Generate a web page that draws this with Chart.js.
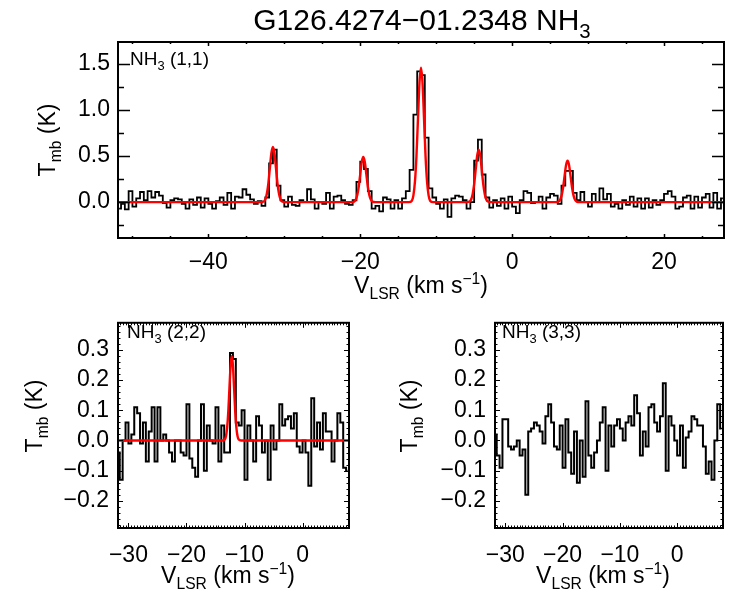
<!DOCTYPE html>
<html>
<head>
<meta charset="utf-8">
<title>G126.4274−01.2348 NH3</title>
<script src="https://cdn.jsdelivr.net/npm/chart.js@4.4.0/dist/chart.umd.min.js"></script>
<style>
  body { margin: 0; background: #fff; }
  #wrap { position: relative; width: 750px; height: 600px; }
  canvas { position: absolute; }
</style>
</head>
<body>
<div id="wrap">
  <canvas id="nh11" width="750" height="300" style="left:0;top:0"></canvas>
  <canvas id="nh22" width="375" height="300" style="left:0;top:300px"></canvas>
  <canvas id="nh33" width="375" height="300" style="left:375px;top:300px"></canvas>
</div>
<script>
// NH3 (1,1): channel grid (km/s) and brightness (K)
const v11Start = -51.75, v11Step = 0.5;
const t11 = [
  -0.07, -0.02, -0.08, 0.12, -0.05, 0.04, 0.11, 0.02, 0.12, 0.05,
  0.11, 0.07, -0.01, -0.06, 0.02, 0.04, 0.03, -0.02, -0.07, 0.03,
  -0.03, 0.05, -0.06, 0.04, -0.02, -0.07, 0.01, 0.05, -0.03, 0.10,
  -0.07, 0.06, 0.05, 0.14, 0.08, 0.03, -0.02, 0.01, -0.04, 0.05,
  0.42, 0.57, 0.18, 0.02, -0.05, 0.06, -0.03, -0.04, 0.02, 0.0,
  0.14, 0.03, -0.07, 0.0, -0.02, 0.10, -0.07, 0.06, 0.07, 0.02,
  -0.02, -0.03, 0.02, 0.22, 0.44, 0.36, 0.12, -0.07, -0.04, -0.10,
  0.05, 0.03, -0.07, 0.02, -0.07, 0.04, 0.12, 0.35, 0.95, 1.42,
  1.38, 0.70, 0.15, 0.05, -0.02, -0.07, 0.03, -0.16, 0.04, 0.07,
  0.06, 0.02, -0.07, 0.0, 0.45, 0.68, 0.30, 0.05, -0.06, 0.02,
  -0.04, 0.04, -0.07, 0.06, -0.05, -0.12, 0.02, 0.12, 0.10, -0.01,
  0.0, 0.06, -0.07, 0.05, 0.09, 0.07, -0.02, 0.18, 0.34, 0.34,
  0.10, 0.02, 0.11, 0.0, -0.05, 0.09, 0.0, 0.15, 0.03, 0.09,
  -0.05, -0.02, -0.07, 0.02, -0.03, 0.06, -0.05, 0.04, -0.07, 0.04,
  -0.06, 0.02, -0.03, 0.02, 0.09, 0.12, 0.06, -0.07, -0.05, 0.05,
  0.07, -0.07, 0.06, -0.06, 0.05, 0.09, -0.06, 0.10, -0.07, 0.04
];
// hyperfine fit (red)
const fit11V = [
  -51.9,
  -33.1, -32.7, -32.5, -32.3, -32.1, -31.9, -31.7, -31.5, -31.3, -31.1, -30.9, -30.7, -30.5, -30.3, -29.9,
  -21.2, -20.8, -20.6, -20.4, -20.2, -20.0, -19.8, -19.6, -19.4, -19.2, -19.0, -18.8, -18.6, -18.4, -18.0,
  -13.6, -13.2, -13.0, -12.8, -12.6, -12.4, -12.2, -12.0, -11.8, -11.6, -11.4, -11.2, -11.0, -10.8, -10.4,
  -6.0, -5.6, -5.4, -5.2, -5.0, -4.8, -4.6, -4.4, -4.2, -4.0, -3.8, -3.6, -3.4, -3.2, -2.8,
  5.7, 6.1, 6.3, 6.5, 6.7, 6.9, 7.1, 7.3, 7.5, 7.7, 7.9, 8.1, 8.3, 8.5, 8.9,
  27.9
];
const fit11T = [
  0,
  0, 0.006, 0.03, 0.09, 0.204, 0.372, 0.534, 0.6, 0.534, 0.372, 0.204, 0.09, 0.03, 0.006, 0,
  0, 0.005, 0.025, 0.074, 0.167, 0.304, 0.436, 0.49, 0.436, 0.304, 0.167, 0.074, 0.025, 0.005, 0,
  0, 0.015, 0.073, 0.219, 0.496, 0.905, 1.299, 1.46, 1.299, 0.905, 0.496, 0.219, 0.073, 0.015, 0,
  0, 0.006, 0.029, 0.086, 0.194, 0.353, 0.507, 0.57, 0.507, 0.353, 0.194, 0.086, 0.029, 0.006, 0,
  0, 0.005, 0.023, 0.068, 0.153, 0.279, 0.401, 0.45, 0.401, 0.279, 0.153, 0.068, 0.023, 0.005, 0,
  0
];

// NH3 (2,2)
const v22Start = -31.75, v22Step = 0.5;
const t22 = [
  -0.04, -0.13, 0.0, 0.06, -0.01, 0.02, 0.11, 0.09, -0.01, 0.06,
  -0.07, 0.03, 0.11, -0.07, 0.11, 0.0, 0.02, 0.0, -0.04, -0.07,
  0.0, 0.0, -0.04, -0.05, 0.12, -0.06, -0.09, -0.12, 0.0, 0.12,
  -0.10, 0.05, 0.0, -0.01, 0.11, -0.07, 0.05, -0.04, -0.04, 0.29,
  0.27, 0.06, 0.05, 0.10, -0.13, 0.05, 0.0, -0.07, 0.08, 0.05,
  -0.04, 0.0, -0.13, 0.05, -0.03, 0.0, 0.12, 0.05, 0.07, 0.08,
  0.04, 0.09, -0.02, -0.04, 0.0, -0.04, -0.15, 0.14, -0.02, 0.06,
  -0.03, 0.09, 0.03, 0.03, -0.07, 0.0, 0.09, 0.06, -0.09, -0.10
];
const fit22V = [-31.8, -13.8, -13.4, -13.2, -13.0, -12.8, -12.6, -12.4, -12.2, -12.0, -11.8, -11.6, -11.4, -11.2, -11.0, -10.6, 8.0];
const fit22T = [0, 0, 0.003, 0.014, 0.042, 0.095, 0.174, 0.249, 0.28, 0.249, 0.174, 0.095, 0.042, 0.014, 0.003, 0, 0];

// NH3 (3,3)
const v33Start = -31.75, v33Step = 0.5;
const t33 = [
  0.02, -0.05, -0.09, 0.07, 0.07, -0.02, -0.03, -0.02, 0.0, -0.05,
  -0.03, -0.18, 0.03, 0.04, 0.06, 0.05, 0.03, -0.01, 0.08, 0.12,
  0.06, -0.02, -0.03, 0.05, -0.09, 0.07, -0.04, -0.11, 0.03, -0.14,
  0.0, -0.12, 0.13, -0.05, -0.09, -0.04, 0.0, 0.06, 0.11, -0.10,
  0.05, -0.02, 0.05, 0.07, 0.04, 0.0, 0.06, 0.08, 0.05, 0.15,
  0.09, -0.05, 0.03, -0.02, 0.11, 0.12, 0.06, 0.03, 0.08, 0.19,
  -0.10, 0.08, 0.05, 0.0, -0.05, 0.05, -0.09, 0.01, 0.03, 0.08,
  0.07, 0.05, 0.05, -0.02, -0.11, -0.07, -0.13, 0.0, 0.12, 0.04
];

// tick labels
const ticks11X = [-40, -20, 0, 20];
const ticks11Y = [0.0, 0.5, 1.0, 1.5];
const ticksLowX = [-30, -20, -10, 0];
const ticksLowY = [-0.2, -0.1, 0.0, 0.1, 0.2, 0.3];

Chart.defaults.font.family = '"Liberation Sans", Arial, sans-serif';
Chart.defaults.font.size = 23;
Chart.defaults.color = '#000';

const FONT = '"Liberation Sans", Arial, sans-serif';

function spectrum(start, step, vals) {
  return vals.map((t, i) => ({ x: start + i * step, y: t }));
}
function pairs(vs, ts) {
  return vs.map((v, i) => ({ x: v, y: ts[i] }));
}
function fmt(dec) {
  return v => (v < 0 ? '\u2212' : '') + Math.abs(v).toFixed(dec);
}

// box with inward major/minor ticks on all four sides
const framePlugin = {
  id: 'frame',
  afterDatasetsDraw(chart, args, o) {
    const { ctx, chartArea: a, scales: { x, y } } = chart;
    ctx.save();
    ctx.strokeStyle = '#000';
    ctx.lineWidth = o.tw;
    ctx.beginPath();
    for (let k = Math.ceil(x.min / o.xMinor - 1e-9); k * o.xMinor <= x.max + 1e-9; k++) {
      const v = k * o.xMinor;
      const r = v / o.xMajor;
      const len = Math.abs(r - Math.round(r)) < 1e-6 ? o.xLen : o.xLen / 2;
      const px = Math.round(x.getPixelForValue(v)) + 0.5;
      ctx.moveTo(px, a.bottom); ctx.lineTo(px, a.bottom - len);
      ctx.moveTo(px, a.top); ctx.lineTo(px, a.top + len);
    }
    for (let k = Math.ceil(y.min / o.yMinor - 1e-9); k * o.yMinor <= y.max + 1e-9; k++) {
      const v = k * o.yMinor;
      const r = v / o.yMajor;
      const len = Math.abs(r - Math.round(r)) < 1e-6 ? o.yLen : o.yLen / 2;
      const py = Math.round(y.getPixelForValue(v)) + 0.5;
      ctx.moveTo(a.left, py); ctx.lineTo(a.left + len, py);
      ctx.moveTo(a.right, py); ctx.lineTo(a.right - len, py);
    }
    ctx.stroke();
    ctx.lineWidth = o.lw;
    ctx.strokeRect(a.left, a.top, a.right - a.left, a.bottom - a.top);
    ctx.restore();
  }
};

// text with sub/superscripts; parts: [text, 0 | -1 sub | 1 sup]
function richText(ctx, t) {
  const small = t.size * 0.68;
  ctx.save();
  ctx.translate(t.x, t.y);
  ctx.rotate(t.angle || 0);
  ctx.fillStyle = '#000';
  ctx.textBaseline = 'alphabetic';
  ctx.textAlign = 'left';
  let w = 0;
  const widths = t.parts.map(p => {
    ctx.font = (p[1] ? small : t.size) + 'px ' + FONT;
    const m = ctx.measureText(p[0]).width;
    w += m;
    return m;
  });
  let cx = t.align === 'left' ? 0 : -w / 2;
  t.parts.forEach((p, i) => {
    ctx.font = (p[1] ? small : t.size) + 'px ' + FONT;
    const dy = p[1] === -1 ? t.size * 0.28 : p[1] === 1 ? -t.size * 0.4 : 0;
    ctx.fillText(p[0], cx, dy);
    cx += widths[i];
  });
  ctx.restore();
}

const textPlugin = {
  id: 'texts',
  afterDraw(chart, args, o) {
    (o.items || []).forEach(t => richText(chart.ctx, t));
  }
};

const yTitle = [['T', 0], ['mb', -1], [' (K)', 0]];
const xTitle = [['V', 0], ['LSR', -1], [' (km s', 0], ['\u22121', 1], [')', 0]];

function makeChart(id, o) {
  const canvas = document.getElementById(id);
  const W = canvas.width, H = canvas.height;
  const datasets = [];
  if (o.fit) {
    datasets.push({ data: o.fit, borderColor: '#ff0000', borderWidth: 2.4, pointRadius: 0,
      cubicInterpolationMode: 'monotone', order: 0 });
  }
  datasets.push({ data: o.spec, borderColor: '#000', borderWidth: o.lineW, pointRadius: 0,
    stepped: 'middle', order: 1 });
  return new Chart(canvas, {
    type: 'line',
    data: { datasets },
    options: {
      responsive: false,
      animation: false,
      events: [],
      layout: { padding: { left: 0, top: o.area.top, right: W - o.area.right, bottom: 0 } },
      plugins: {
        legend: { display: false },
        tooltip: { enabled: false },
        frame: o.frame,
        texts: { items: o.texts }
      },
      scales: {
        x: {
          type: 'linear', min: o.xRange[0], max: o.xRange[1],
          grid: { display: false, drawTicks: false }, border: { display: false },
          ticks: { padding: o.xPad, maxRotation: 0, autoSkip: false, callback: fmt(0) },
          afterBuildTicks: s => { s.ticks = o.xTicks.map(v => ({ value: v })); },
          afterFit: s => { s.height = H - o.area.bottom; }
        },
        y: {
          type: 'linear', min: o.yRange[0], max: o.yRange[1],
          grid: { display: false, drawTicks: false }, border: { display: false },
          ticks: { padding: o.yPad, autoSkip: false, callback: fmt(1) },
          afterBuildTicks: s => { s.ticks = o.yTicks.map(v => ({ value: v })); },
          afterFit: s => { s.width = o.area.left; }
        }
      }
    },
    plugins: [framePlugin, textPlugin]
  });
}

makeChart('nh11', {
  spec: spectrum(v11Start, v11Step, t11),
  fit: pairs(fit11V, fit11T),
  lineW: 1.8,
  area: { left: 118, right: 724, top: 42, bottom: 238 },
  xRange: [-51.9, 27.9], yRange: [-0.39, 1.74],
  xTicks: ticks11X, yTicks: ticks11Y, xPad: 11, yPad: 8,
  frame: { xMajor: 20, xMinor: 5, yMajor: 0.5, yMinor: 0.25, xLen: 4, yLen: 12, lw: 2, tw: 1.5 },
  texts: [
    { parts: [['G126.4274\u221201.2348 NH', 0], ['3', -1]], x: 422, y: 30, size: 30 },
    { parts: yTitle, x: 55, y: 140, size: 23, angle: -Math.PI / 2 },
    { parts: xTitle, x: 421, y: 293, size: 23 },
    { parts: [['NH', 0], ['3', -1], [' (1,1)', 0]], x: 130, y: 65, size: 19, align: 'left' }
  ]
});

const lowFrame = { xMajor: 10, xMinor: 0.5, yMajor: 0.1, yMinor: 0.02, xLen: 5, yLen: 5, lw: 2, tw: 1 };

makeChart('nh22', {
  spec: spectrum(v22Start, v22Step, t22),
  fit: pairs(fit22V, fit22T),
  lineW: 2,
  area: { left: 118, right: 349, top: 10, bottom: 228 },
  xRange: [-31.8, 8.0], yRange: [-0.29, 0.39],
  xTicks: ticksLowX, yTicks: ticksLowY, xPad: 14, yPad: 9,
  frame: lowFrame,
  texts: [
    { parts: yTitle, x: 42, y: 116, size: 23, angle: -Math.PI / 2 },
    { parts: xTitle, x: 228, y: 283, size: 23 },
    { parts: [['NH', 0], ['3', -1], [' (2,2)', 0]], x: 127, y: 38, size: 19, align: 'left' }
  ]
});

makeChart('nh33', {
  spec: spectrum(v33Start, v33Step, t33),
  lineW: 2,
  area: { left: 120, right: 348, top: 10, bottom: 228 },
  xRange: [-31.8, 8.0], yRange: [-0.29, 0.39],
  xTicks: ticksLowX, yTicks: ticksLowY, xPad: 14, yPad: 9,
  frame: lowFrame,
  texts: [
    { parts: yTitle, x: 42, y: 116, size: 23, angle: -Math.PI / 2 },
    { parts: xTitle, x: 228, y: 283, size: 23 },
    { parts: [['NH', 0], ['3', -1], [' (3,3)', 0]], x: 127, y: 38, size: 19, align: 'left' }
  ]
});
</script>
</body>
</html>
